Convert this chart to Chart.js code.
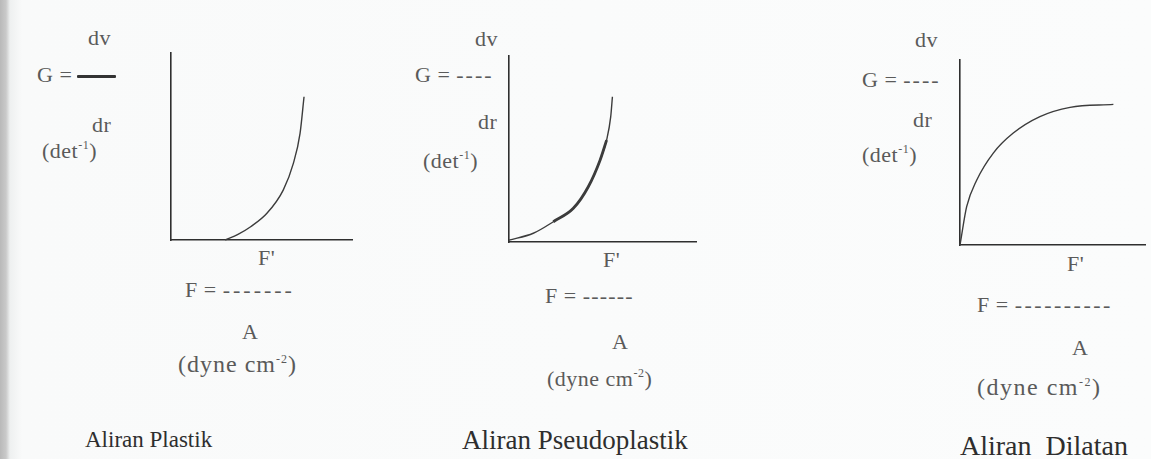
<!DOCTYPE html>
<html lang="id">
<head>
    <meta charset="UTF-8">
    <title>Aliran Plastik, Pseudoplastik, Dilatan</title>
    <script src="https://cdn.jsdelivr.net/npm/chart.js"></script>
    <style>
        html, body { margin: 0; padding: 0; }
        body {
            width: 1151px; height: 459px; overflow: hidden; position: relative;
            background: linear-gradient(90deg, #b9b9b9 0px, #c9c9c9 6px, #eef0f0 10px, #f9fafa 22px, #fbfcfc 100%);
        }
        .t {
            position: absolute; line-height: 1; white-space: nowrap;
            font-family: 'Liberation Serif', 'DejaVu Serif', serif;
            font-size: 22px; color: #5a5a5a; letter-spacing: 0.5px;
        }
        .t sup { font-size: 12px; vertical-align: 9px; line-height: 0; }
        .d { letter-spacing: 2px; }
        .title { color: #2e2e2e; letter-spacing: 0; }
        .bar { position: absolute; height: 3px; background: #333; border-radius: 1px; }
        .box { position: absolute; }
    </style>
</head>
<body>

    <!-- Aliran Plastik -->
    <div class="t" style="left:88px; top:27px;">dv</div>
    <div class="t" style="left:37px; top:64px;">G =</div>
    <div class="bar" style="left:77px; top:75px; width:39px;"></div>
    <div class="t" style="left:92px; top:114px;">dr</div>
    <div class="t" style="left:42px; top:140px;">(det<sup>-1</sup>)</div>
    <div class="t" style="left:258px; top:247px;">F'</div>
    <div class="t" style="left:185px; top:279px;">F = <span class="d" style="letter-spacing:3px">-------</span></div>
    <div class="t" style="left:242px; top:321px;">A</div>
    <div class="t" style="left:178px; top:352px; font-size:24px; letter-spacing:1px;">(dyne cm<sup>-2</sup>)</div>
    <div class="t title" style="left:85px; top:428px; font-size:23px;">Aliran Plastik</div>
    <div class="box" style="left:167px; top:49px;"><canvas id="chartPlastik" width="189" height="195"></canvas></div>

    <!-- Aliran Pseudoplastik -->
    <div class="t" style="left:475px; top:28px;">dv</div>
    <div class="t" style="left:415px; top:64px;">G = <span class="d">----</span></div>
    <div class="t" style="left:478px; top:111px;">dr</div>
    <div class="t" style="left:423px; top:150px;">(det<sup>-1</sup>)</div>
    <div class="t" style="left:603px; top:249px;">F'</div>
    <div class="t" style="left:545px; top:285px;">F = <span class="d" style="letter-spacing:1.2px">------</span></div>
    <div class="t" style="left:612px; top:331px;">A</div>
    <div class="t" style="left:547px; top:368px;">(dyne cm<sup>-2</sup>)</div>
    <div class="t title" style="left:462px; top:427px; font-size:27px;">Aliran Pseudoplastik</div>
    <div class="box" style="left:505px; top:52px;"><canvas id="chartPseudo" width="195" height="194"></canvas></div>

    <!-- Aliran Dilatan -->
    <div class="t" style="left:915px; top:29px;">dv</div>
    <div class="t" style="left:862px; top:69px;">G = <span class="d">----</span></div>
    <div class="t" style="left:913px; top:109px;">dr</div>
    <div class="t" style="left:862px; top:144px;">(det<sup>-1</sup>)</div>
    <div class="t" style="left:1067px; top:253px;">F'</div>
    <div class="t" style="left:977px; top:294px;">F = <span class="d" style="letter-spacing:2.5px">----------</span></div>
    <div class="t" style="left:1072px; top:337px;">A</div>
    <div class="t" style="left:977px; top:375px; font-size:24px; letter-spacing:1.5px;">(dyne cm<sup>-2</sup>)</div>
    <div class="t title" style="left:960px; top:432px; font-size:28px;">Aliran&nbsp; Dilatan</div>
    <div class="box" style="left:956px; top:56px;"><canvas id="chartDilatan" width="193" height="193"></canvas></div>

    <script>
        // Data (skala 0-100 pada kedua sumbu)
        const plastikX = [30, 37, 44, 53, 62, 67.6, 71.3, 73.5];
        const plastikY = [0, 3, 7.1, 14.3, 26.7, 41, 57, 76.6];

        const pseudoX = [0, 13, 23.7, 34.4, 42.4, 48.7, 52.2, 54.4, 55.3];
        const pseudoY = [1, 4.7, 10.9, 18.1, 29.7, 44, 54.8, 67.4, 78.1];

        const dilatanX = [0, 0.5, 3.6, 9, 18, 28.8, 43.2, 59.5, 82.9];
        const dilatanY = [0, 3, 20.7, 35, 49.7, 60.5, 69.4, 74.4, 76];

        const lineColor = '#3c3c3c';
        const axisColor = '#2f2f2f';

        function toPoints(xs, ys) {
            return xs.map((x, i) => ({ x: x, y: ys[i] }));
        }

        function axisOpts() {
            return {
                type: 'linear', min: 0, max: 100,
                grid: { display: false, drawTicks: false },
                border: { display: true, color: axisColor, width: 1.6 },
                ticks: { display: false }
            };
        }

        function makeChart(id, datasets) {
            const ctx = document.getElementById(id).getContext('2d');
            return new Chart(ctx, {
                type: 'scatter',
                data: { datasets: datasets },
                options: {
                    responsive: false,
                    animation: false,
                    layout: { padding: 4 },
                    plugins: { legend: { display: false }, tooltip: { enabled: false } },
                    scales: { x: axisOpts(), y: axisOpts() }
                }
            });
        }

        function curve(xs, ys, width) {
            return {
                data: toPoints(xs, ys),
                showLine: true,
                borderColor: lineColor,
                borderWidth: width,
                pointRadius: 0,
                cubicInterpolationMode: 'monotone',
                clip: false
            };
        }

        makeChart('chartPlastik', [curve(plastikX, plastikY, 1.4)]);

        // bagian tengah kurva pseudoplastik tampak lebih tebal di gambar
        makeChart('chartPseudo', [
            curve(pseudoX, pseudoY, 1.4),
            curve(pseudoX.slice(2, 7), pseudoY.slice(2, 7), 2.8)
        ]);

        makeChart('chartDilatan', [curve(dilatanX, dilatanY, 1.4)]);
    </script>
</body>
</html>
